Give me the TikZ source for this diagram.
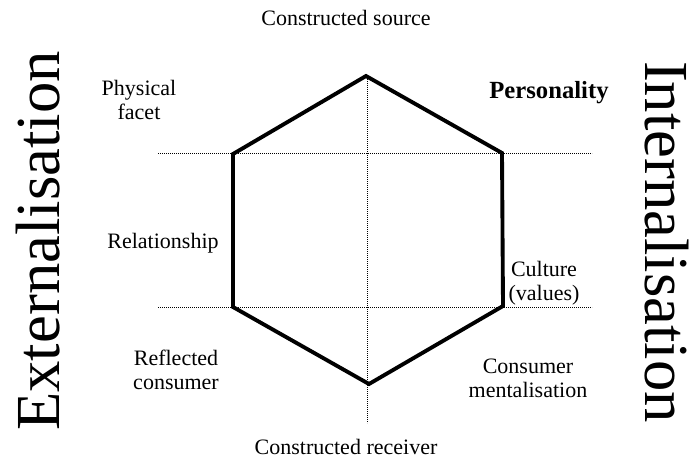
\documentclass[tikz,border=0pt]{standalone}
\usepackage{fontspec}
\setmainfont{Liberation Serif}
\begin{document}
\begin{tikzpicture}[x=0.75pt, y=-0.75pt,
    side/.style={line width=2.9pt, line join=miter},
    guide/.style={line width=0.7pt, dash pattern=on 0.7pt off 0.8pt},
    lbl/.style={font=\fontsize{16.5}{18}\selectfont, align=center},
    axislbl/.style={font=\fontsize{47}{50}\selectfont, inner sep=0pt}]
            \useasboundingbox (0,0) rectangle (699,460);
            % hexagon corners
            \coordinate (top) at (366,76);
            \coordinate (ur) at (502,153);
            \coordinate (lr) at (503,306);
            \coordinate (bot) at (369,384);
            \coordinate (ll) at (233,307);
            \coordinate (ul) at (233,154);
            % guide ends
            \coordinate (gul) at (158,153);
            \coordinate (gur) at (592,153);
            \coordinate (gll) at (158,307);
            \coordinate (glr) at (592,307);
            \coordinate (gtop) at (367,77);
            \coordinate (gbot) at (367,423);
            \draw[guide] (gul) -- (gur);
            \draw[guide] (gll) -- (glr);
            \draw[guide] (gtop) -- (gbot);
            \draw[side] (top) -- (ur) -- (lr) -- (bot) -- (ll) -- (ul) -- cycle;
            \node[lbl] (src) at (346,18) {Constructed source};
            \node[lbl] (facet) at (139,100) {Physical\\facet};
            \node[lbl, font=\fontsize{18.5}{20}\selectfont\bfseries] (pers) at (549,93) {Personality};
            \node[lbl] (rel) at (163,243) {Relationship};
            \node[lbl] (cult) at (544,283) {Culture\\(values)};
            \node[lbl] (refl) at (176,370) {Reflected\\consumer};
            \node[lbl] (ment) at (528,378) {Consumer\\mentalisation};
            \node[lbl] (recv) at (346,447) {Constructed receiver};
            \node[axislbl, rotate=90] (ext) at (38,241) {Externalisation};
            \node[axislbl, rotate=-90] (int) at (667,242) {Internalisation};
\end{tikzpicture}
\end{document}
